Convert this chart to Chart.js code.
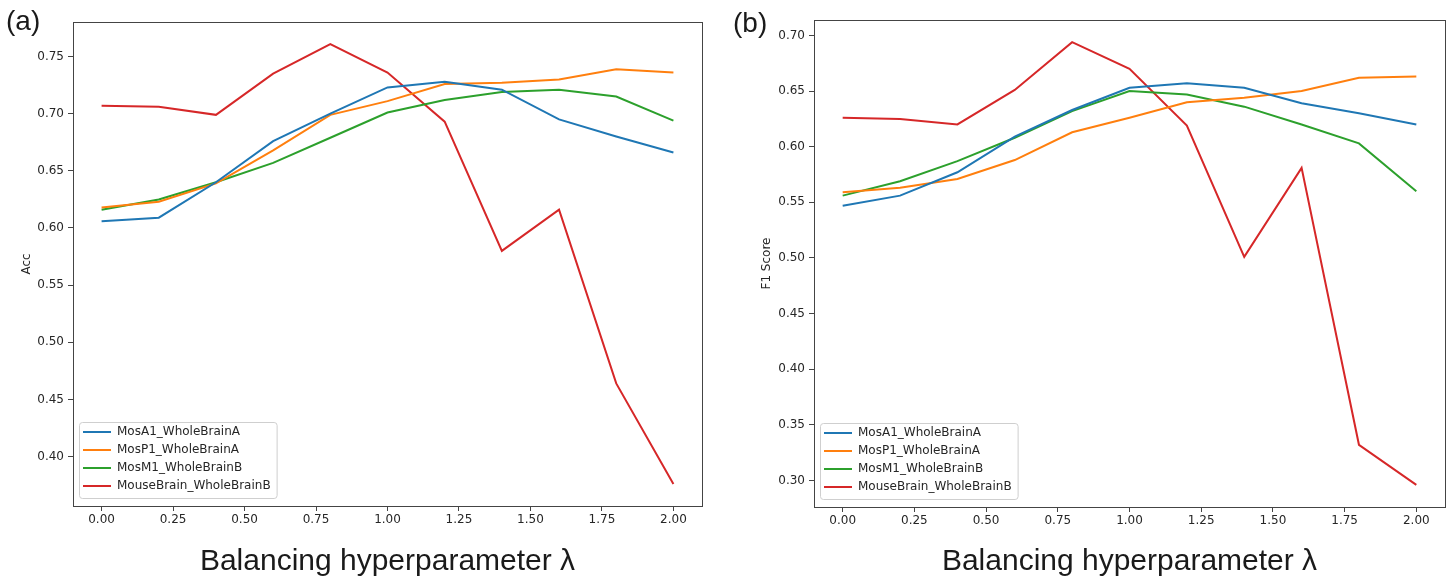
<!DOCTYPE html>
<html>
<head>
<meta charset="utf-8">
<script src="https://cdn.jsdelivr.net/npm/chart.js@4.4.1/dist/chart.umd.min.js"></script>
<style>
  body { margin: 0; background: #fff; }
  #wrap { position: relative; width: 1448px; height: 578px; background: #fff; overflow: hidden; }
  canvas { position: absolute; top: 0; }
  .panel { position: absolute; font-family: "Liberation Sans", Arial, sans-serif; font-size: 28px; line-height: 28px; color: #1a1a1a; }
</style>
</head>
<body>
<div id="wrap">
  <canvas id="accChart" width="730" height="578" style="left:0px;width:730px;height:578px"></canvas>
  <canvas id="f1Chart" width="718" height="578" style="left:730px;width:718px;height:578px"></canvas>
  <div class="panel" style="left:6px;top:7px">(a)</div>
  <div class="panel" style="left:733px;top:9px">(b)</div>
</div>
<script>
// Balancing hyperparameter values (x axis)
const lambdas = [0, 0.2, 0.4, 0.6, 0.8, 1.0, 1.2, 1.4, 1.6, 1.8, 2.0];
const seriesNames = ["MosA1_WholeBrainA", "MosP1_WholeBrainA", "MosM1_WholeBrainB", "MouseBrain_WholeBrainB"];
const seriesColors = ["#1f77b4", "#ff7f0e", "#2ca02c", "#d62728"];

// (a) accuracy
const accMosA1 = [0.606, 0.609, 0.640, 0.676, 0.700, 0.723, 0.728, 0.721, 0.695, 0.680, 0.666];
const accMosP1 = [0.618, 0.623, 0.639, 0.668, 0.699, 0.711, 0.726, 0.727, 0.730, 0.739, 0.736];
const accMosM1 = [0.616, 0.625, 0.640, 0.657, 0.679, 0.701, 0.712, 0.719, 0.721, 0.715, 0.694];
const accMouse = [0.707, 0.706, 0.699, 0.735, 0.761, 0.736, 0.693, 0.580, 0.616, 0.464, 0.376];

// (b) F1 score
const f1MosA1 = [0.547, 0.556, 0.577, 0.609, 0.633, 0.653, 0.657, 0.653, 0.639, 0.630, 0.620];
const f1MosP1 = [0.559, 0.563, 0.571, 0.588, 0.613, 0.626, 0.640, 0.644, 0.650, 0.662, 0.663];
const f1MosM1 = [0.556, 0.569, 0.587, 0.608, 0.632, 0.650, 0.647, 0.636, 0.620, 0.603, 0.560];
const f1Mouse = [0.626, 0.625, 0.620, 0.651, 0.694, 0.670, 0.619, 0.501, 0.581, 0.332, 0.296];

const xTitle = "Balancing hyperparameter \u03bb";
const tickFont = { family: "DejaVu Sans", size: 12 };
const textColor = "#262626";
const frameColor = "#444444";

// box around the plot area (matplotlib style spines)
const framePlugin = {
  id: "frame",
  afterDraw(chart) {
    const { ctx, chartArea: a } = chart;
    ctx.save();
    ctx.strokeStyle = frameColor;
    ctx.lineWidth = 1;
    ctx.strokeRect(Math.round(a.left) + 0.5, Math.round(a.top) + 0.5,
      Math.round(a.right - a.left), Math.round(a.bottom - a.top));
    ctx.restore();
  },
};

// move the legend to the lower left corner and give it a frame
const legendBoxPlugin = {
  id: "legendBox",
  afterLayout(chart) {
    const lg = chart.legend;
    const a = chart.chartArea;
    lg.left = a.left + 4;
    lg.right = a.right;
    lg.top = a.top;
    lg.bottom = Math.round(a.bottom - 8);
  },
  beforeDraw(chart) {
    const { ctx } = chart;
    const lg = chart.legend;
    const pad = lg.options.labels.padding;
    const fs = lg.options.labels.font.size;
    const n = chart.data.datasets.length;
    ctx.save();
    ctx.font = fs + "px 'DejaVu Sans'";
    let maxW = 0;
    chart.data.datasets.forEach(d => { maxW = Math.max(maxW, ctx.measureText(d.label).width); });
    const firstC = lg.bottom - n * (fs + pad) + fs / 2;
    const lastC = firstC + (n - 1) * (fs + pad);
    const x0 = lg.left + 2;
    const x1 = lg.left + pad + 28 + fs / 2 + maxW + 6;
    const y0 = firstC - 10;
    const y1 = lastC + 12;
    ctx.beginPath();
    ctx.roundRect(x0 + 0.5, y0 + 0.5, x1 - x0, y1 - y0, 3);
    ctx.fillStyle = "rgba(255,255,255,0.8)";
    ctx.fill();
    ctx.strokeStyle = "#cfcfcf";
    ctx.lineWidth = 1;
    ctx.stroke();
    ctx.restore();
  },
};

function makeDatasets(valueLists) {
  return valueLists.map((vals, i) => ({
    label: seriesNames[i],
    data: lambdas.map((l, j) => ({ x: l, y: vals[j] })),
    borderColor: seriesColors[i],
    backgroundColor: seriesColors[i],
    borderWidth: 2,
    pointRadius: 0,
    tension: 0,
    fill: false,
  }));
}

function makeChart(canvasId, valueLists, yLabel, opts) {
  const all = valueLists.flat();
  const lo = Math.min(...all), hi = Math.max(...all);
  const m = (hi - lo) * 0.05;

  new Chart(document.getElementById(canvasId), {
    type: "line",
    data: { datasets: makeDatasets(valueLists) },
    options: {
      responsive: false,
      animation: false,
      devicePixelRatio: 1,
      layout: { padding: { top: opts.top, right: opts.right, left: 0, bottom: 0 } },
      plugins: {
        tooltip: { enabled: false },
        legend: {
          position: "chartArea",
          align: "end",
          labels: {
            usePointStyle: true,
            pointStyle: "line",
            pointStyleWidth: 28,
            padding: 6,
            color: textColor,
            font: { family: "DejaVu Sans", size: 12 },
          },
        },
      },
      scales: {
        x: {
          type: "linear",
          min: -0.1,
          max: 2.1,
          afterFit(scale) { scale.height = opts.xHeight; },
          grid: { drawOnChartArea: false, drawTicks: true, tickLength: 5, color: frameColor },
          border: { display: true, color: frameColor },
          ticks: {
            stepSize: 0.25,
            includeBounds: false,
            padding: 2,
            color: textColor,
            font: tickFont,
            maxRotation: 0,
            callback: v => v.toFixed(2),
          },
          title: {
            display: true,
            text: xTitle,
            color: "#1a1a1a",
            font: { family: "Liberation Sans", size: 30, lineHeight: 1 },
            padding: { top: 0, bottom: 1 },
          },
        },
        y: {
          type: "linear",
          min: lo - m,
          max: hi + m,
          afterFit(scale) { scale.width = opts.yWidth; },
          grid: { drawOnChartArea: false, drawTicks: true, tickLength: 5, color: frameColor },
          border: { display: true, color: frameColor },
          ticks: {
            stepSize: 0.05,
            includeBounds: false,
            padding: 4,
            color: textColor,
            font: tickFont,
            callback: v => v.toFixed(2),
          },
          title: {
            display: true,
            text: yLabel,
            color: textColor,
            font: { family: "DejaVu Sans", size: 12 },
            padding: { top: opts.yTitlePad, bottom: 0 },
          },
        },
      },
    },
    plugins: [legendBoxPlugin, framePlugin],
  });
}

document.addEventListener("DOMContentLoaded", () => {
  makeChart("accChart", [accMosA1, accMosP1, accMosM1, accMouse], "Acc",
    { top: 22, right: 28, xHeight: 72, yWidth: 73, yTitlePad: 20 });
  makeChart("f1Chart", [f1MosA1, f1MosP1, f1MosM1, f1Mouse], "F1 Score",
    { top: 20, right: 3, xHeight: 71, yWidth: 84, yTitlePad: 30 });
});
</script>
</body>
</html>
